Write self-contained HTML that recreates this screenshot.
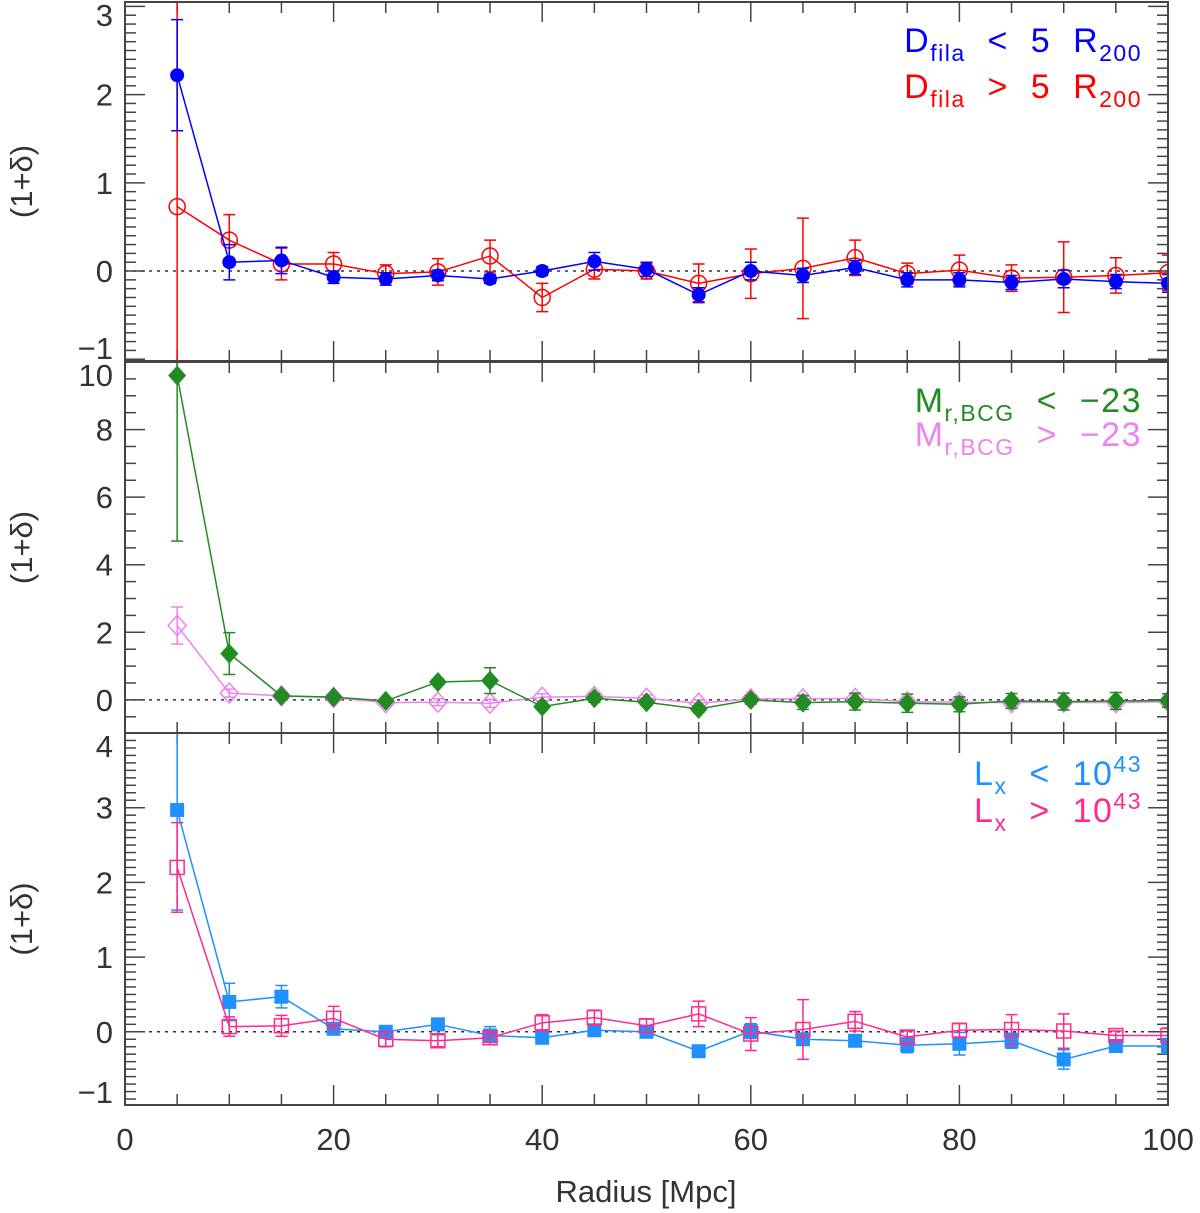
<!DOCTYPE html>
<html><head><meta charset="utf-8"><style>
body{margin:0;background:#fff}
svg{display:block}
text{font-family:"Liberation Sans","DejaVu Sans",sans-serif;fill:#333}
.leg{white-space:pre;letter-spacing:1.5px}
</style></head><body>
<svg id="chart" width="1200" height="1213" viewBox="0 0 1200 1213" xmlns="http://www.w3.org/2000/svg"></svg>
<script>
const radii=[5,10,15,20,25,30,35,40,45,50,55,60,65,70,75,80,85,90,95,100];
// panel 1
const filaNear=[2.22,0.1,0.12,-0.07,-0.09,-0.05,-0.09,0.0,0.11,0.02,-0.27,0.0,-0.05,0.04,-0.1,-0.1,-0.13,-0.09,-0.12,-0.14];
const filaNearErr=[0.63,0.2,0.15,0.07,0.07,0.06,0.05,0.05,0.1,0.08,0.08,0.1,0.08,0.08,0.08,0.08,0.08,0.1,0.08,0.1];
const filaFar=[0.73,0.35,0.08,0.08,-0.03,-0.01,0.17,-0.3,0.02,0.0,-0.14,-0.03,0.03,0.15,-0.03,0.01,-0.08,-0.07,-0.05,-0.02];
const filaFarErr=[2.4,0.29,0.18,0.13,0.1,0.15,0.18,0.16,0.11,0.09,0.22,0.28,0.57,0.2,0.12,0.17,0.15,0.4,0.2,0.2];
// panel 2
const bcgBright=[9.6,1.37,0.12,0.08,-0.03,0.53,0.57,-0.2,0.05,-0.07,-0.27,0.0,-0.08,-0.05,-0.1,-0.13,-0.03,-0.05,-0.03,-0.02];
const bcgBrightErr=[4.9,0.62,0.1,0.08,0.08,0.08,0.38,0.08,0.12,0.1,0.1,0.12,0.2,0.25,0.27,0.22,0.22,0.25,0.25,0.2];
const bcgFaint=[2.2,0.2,0.12,0.07,-0.08,-0.07,-0.1,0.08,0.1,0.05,-0.1,0.03,0.03,0.04,-0.05,-0.07,-0.08,-0.07,-0.08,-0.05];
const bcgFaintErr=[0.55,0.12,0.08,0.08,0.1,0.1,0.12,0.1,0.1,0.1,0.1,0.12,0.12,0.12,0.12,0.12,0.12,0.12,0.12,0.12];
// panel 3
const lxLow=[2.97,0.4,0.47,0.04,0.0,0.1,-0.05,-0.08,0.02,0.0,-0.26,0.01,-0.1,-0.12,-0.18,-0.16,-0.12,-0.37,-0.19,-0.19];
const lxLowErr=[1.34,0.25,0.15,0.06,0.06,0.06,0.12,0.06,0.08,0.06,0.05,0.1,0.08,0.08,0.1,0.15,0.1,0.13,0.08,0.1];
const lxHigh=[2.2,0.07,0.08,0.18,-0.1,-0.12,-0.08,0.12,0.19,0.08,0.24,-0.03,0.03,0.14,-0.07,0.02,0.03,0.01,-0.05,-0.05];
const lxHighErr=[0.6,0.13,0.14,0.16,0.1,0.08,0.06,0.11,0.1,0.09,0.17,0.22,0.4,0.13,0.08,0.09,0.2,0.23,0.06,0.1];
const xTicks=[0,20,40,60,80,100];

const svg=document.getElementById('chart');
const NS='http://www.w3.org/2000/svg';
function mk(tag,attrs,parent){const e=document.createElementNS(NS,tag);for(const k in attrs)e.setAttribute(k,attrs[k]);(parent||svg).appendChild(e);return e;}
const X0=125,X1=1168;
function xs(v){return X0+(v-0)/(100-0)*(X1-X0);}

const panels=[
 {name:'filament-panel',top:2,bot:361,ymin:-1.02,ymax:3.05,major:1,minor:0.1,labels:[-1,0,1,2,3],
  series:[
   {name:'fila-far',vals:filaFar,err:filaFarErr,color:'#ff0000',marker:'ocircle'},
   {name:'fila-near',vals:filaNear,err:filaNearErr,color:'#0000ff',marker:'fcircle'}],
  legend:[{color:'#0000ff',main:'D',sub:'fila',rest:'  <  5  R',sub2:'200',y:52},
          {color:'#ff0000',main:'D',sub:'fila',rest:'  >  5  R',sub2:'200',y:98}]},
 {name:'bcg-panel',top:362,bot:733,ymin:-0.98,ymax:10.0,major:2,minor:0.5,labels:[0,2,4,6,8,10],
  series:[
   {name:'bcg-faint',vals:bcgFaint,err:bcgFaintErr,color:'#ee82ee',marker:'odiamond'},
   {name:'bcg-bright',vals:bcgBright,err:bcgBrightErr,color:'#228b22',marker:'fdiamond'}],
  legend:[{color:'#228b22',main:'M',sub:'r,BCG',rest:'  <  −23',y:412},
          {color:'#ee82ee',main:'M',sub:'r,BCG',rest:'  >  −23',y:446}]},
 {name:'lx-panel',top:733,bot:1105,ymin:-0.98,ymax:4.0,major:1,minor:0.1,labels:[-1,0,1,2,3,4],
  series:[
   {name:'lx-low',vals:lxLow,err:lxLowErr,color:'#1e90ff',marker:'fsquare'},
   {name:'lx-high',vals:lxHigh,err:lxHighErr,color:'#ff2a8a',marker:'osquare'}],
  legend:[{color:'#1e90ff',main:'L',sub:'x',rest:'  <  10',sup:'43',y:785},
          {color:'#ff2a8a',main:'L',sub:'x',rest:'  >  10',sup:'43',y:822}]}
];

panels.forEach((p,pi)=>{
 const g=mk('g',{});
 
 
 const ys=v=>p.bot-(v-p.ymin)/(p.ymax-p.ymin)*(p.bot-p.top);
 const clipId='clip'+pi;
 const cp=mk('clipPath',{id:clipId},g);
 mk('rect',{x:X0,y:p.top,width:X1-X0,height:p.bot-p.top},cp);
 const zl=mk('line',{x1:X0,x2:X1,y1:ys(0),y2:ys(0),stroke:'#333','stroke-width':1.5,'stroke-dasharray':'3,5'},g);
 
 
 const n0=Math.ceil(p.ymin/p.minor-1e-6),n1=Math.floor(p.ymax/p.minor+1e-6);
 for(let i=n0;i<=n1;i++){
  const v=i*p.minor;const isMaj=Math.abs(v/p.major-Math.round(v/p.major))<1e-6;
  const L=isMaj?20:11;const y=ys(v);
  mk('line',{x1:X0,x2:X0+L,y1:y,y2:y,stroke:'#444','stroke-width':1.5},g);
  mk('line',{x1:X1,x2:X1-L,y1:y,y2:y,stroke:'#444','stroke-width':1.5},g);
 }
 p.labels.forEach(v=>{
  let cy=ys(v);
  cy=Math.max(p.top+13,Math.min(p.bot-13,cy));
  const t=mk('text',{x:X0-12,y:cy+11,'text-anchor':'end','font-size':31},g);
  t.textContent=v<0?'−'+Math.abs(v):String(v);
  
  
 });
 for(let v=0;v<=100;v+=5){
  const L=v%20===0?20:11;const x=xs(v);
  mk('line',{x1:x,x2:x,y1:p.bot,y2:p.bot-L,stroke:'#444','stroke-width':1.5},g);
  mk('line',{x1:x,x2:x,y1:p.top,y2:p.top+L,stroke:'#444','stroke-width':1.5},g);
 }
 const yl=mk('text',{x:0,y:0,'text-anchor':'middle','font-size':31,transform:`translate(32,${(p.top+p.bot)/2}) rotate(-90)`},g);
 yl.textContent='(1+δ)';
 
 
 const dg=mk('g',{'clip-path':`url(#${clipId})`},g);
 p.series.forEach(s=>{
  const sg=mk('g',{},dg);
  
  
  const pts=radii.map((r,i)=>xs(r)+','+ys(s.vals[i])).join(' ');
  mk('polyline',{points:pts,fill:'none',stroke:s.color,'stroke-width':1.5},sg);
  radii.forEach((r,i)=>{
   const x=xs(r),y=ys(s.vals[i]),yt=ys(s.vals[i]+s.err[i]),yb=ys(s.vals[i]-s.err[i]);
   const eb=mk('path',{d:`M${x},${yt}V${yb}M${x-6},${yt}H${x+6}M${x-6},${yb}H${x+6}`,stroke:s.color,'stroke-width':1.5,fill:'none'},sg);
   
   
   let m;
   if(s.marker==='fcircle')m=mk('circle',{cx:x,cy:y,r:7,fill:s.color},sg);
   else if(s.marker==='ocircle')m=mk('circle',{cx:x,cy:y,r:8,fill:'none',stroke:s.color,'stroke-width':1.5},sg);
   else if(s.marker==='fdiamond')m=mk('path',{d:`M${x},${y-10}L${x+9},${y}L${x},${y+10}L${x-9},${y}Z`,fill:s.color},sg);
   else if(s.marker==='odiamond')m=mk('path',{d:`M${x},${y-10}L${x+9},${y}L${x},${y+10}L${x-9},${y}Z`,fill:'none',stroke:s.color,'stroke-width':1.5},sg);
   else if(s.marker==='fsquare')m=mk('rect',{x:x-7,y:y-7,width:14,height:14,fill:s.color},sg);
   else m=mk('rect',{x:x-7,y:y-7,width:14,height:14,fill:'none',stroke:s.color,'stroke-width':1.5},sg);
   
   
  });
 });
 mk('rect',{x:X0,y:p.top,width:X1-X0,height:p.bot-p.top,fill:'none',stroke:'#444','stroke-width':2},g);
 p.legend.forEach(l=>{
  const t=mk('text',{x:1142,y:l.y,'text-anchor':'end','font-size':34,class:'leg',style:'fill:'+l.color},g);
  
  
  const a=mk('tspan',{},t);a.textContent=l.main;
  const b=mk('tspan',{dy:9,'font-size':23},t);b.textContent=l.sub;
  const c=mk('tspan',{dy:-9},t);c.textContent=l.rest;
  if(l.sub2){const d=mk('tspan',{dy:9,'font-size':23},t);d.textContent=l.sub2;}
  if(l.sup){const d=mk('tspan',{dy:-13,'font-size':23},t);d.textContent=l.sup;}
 });
});
xTicks.forEach(v=>{
 const t=mk('text',{x:xs(v),y:1150,'text-anchor':'middle','font-size':31});
 t.textContent=String(v);
 
 
});
const xt=mk('text',{x:646,y:1202,'text-anchor':'middle','font-size':31});
xt.textContent='Radius [Mpc]';


</script>
</body></html>
